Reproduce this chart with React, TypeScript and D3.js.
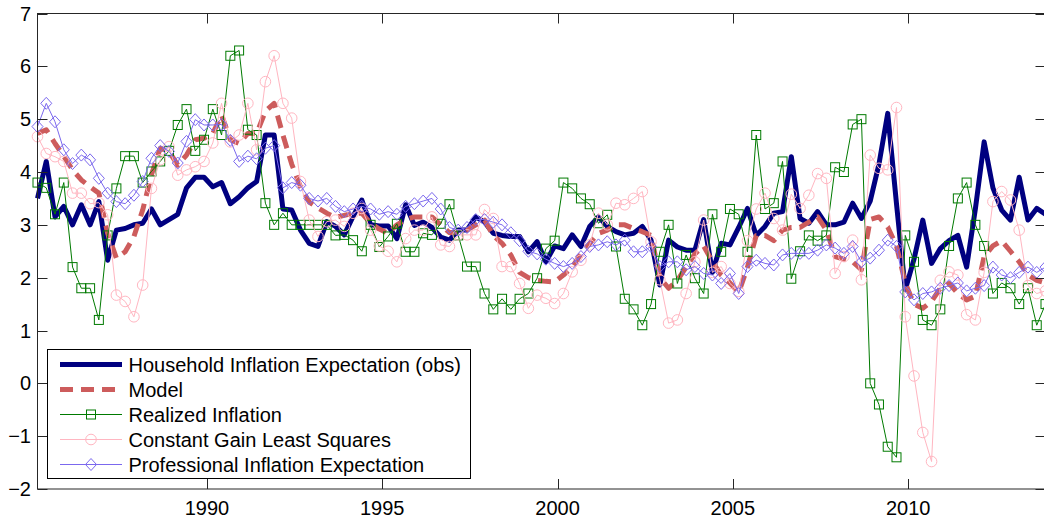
import { useEffect, useRef } from "react";
import * as d3 from "d3";

// quarterly observations 1985Q1 .. 2013Q4, plotted at mid-quarter month
const START_YEAR = 1985;
const N_QUARTERS = 116;

const household = [
  3.5, 4.2, 3.15, 3.35, 3.0, 3.38, 3.0, 3.44, 2.33, 2.9, 2.93, 3.0, 3.03, 3.3, 3.0, 3.1, 3.2, 3.7, 3.9, 3.9,
  3.72, 3.8, 3.4, 3.53, 3.7, 3.82, 4.7, 4.7, 3.3, 3.28, 2.9, 2.65, 2.59, 3.06, 2.97, 2.81, 3.16, 3.47, 3.0, 2.98,
  2.98, 2.74, 3.38, 2.99, 3.05, 2.95, 2.77, 2.71, 2.9, 2.9, 3.15, 3.05, 2.84, 2.8, 2.78, 2.78, 2.49, 2.68, 2.3, 2.6,
  2.55, 2.81, 2.59, 2.97, 3.15, 2.97, 2.87, 2.81, 2.84, 2.97, 2.71, 1.86, 2.71, 2.58, 2.52, 2.52, 3.1, 2.1, 2.65, 2.62,
  2.95, 3.31, 2.8, 2.97, 3.22, 3.25, 4.29, 3.12, 3.03, 3.25, 3.0, 3.0, 3.05, 3.41, 3.12, 3.45, 4.15, 5.11, 3.4, 1.77,
  2.35, 3.09, 2.27, 2.55, 2.7, 2.8, 2.2, 3.3, 4.57, 3.7, 3.28, 3.09, 3.9, 3.09, 3.31, 3.2,
];

const model = [
  4.73, 4.8, 4.54, 4.3, 4.04, 3.85, 3.72, 3.6, 2.84, 2.37, 2.49, 2.78, 3.28, 3.95, 4.45, 4.39, 4.13, 4.32, 4.61, 4.64,
  4.73, 5.08, 4.61, 4.54, 4.73, 4.73, 5.15, 5.3, 4.7, 4.15, 3.72, 3.43, 3.32, 3.22, 3.14, 3.18, 3.22, 3.22, 3.03, 2.92,
  2.84, 3.0, 3.1, 3.15, 3.15, 3.15, 3.0, 2.85, 2.87, 2.9, 3.0, 3.09, 2.8, 2.65, 2.43, 2.1, 2.0, 1.95, 1.93, 1.92,
  2.05, 2.2, 2.45, 2.65, 2.84, 2.9, 3.0, 3.0, 2.93, 2.87, 2.8, 2.0, 1.8, 1.95, 2.2, 2.45, 2.6, 2.3, 2.05, 1.9,
  1.72, 2.2, 2.8, 2.8, 2.7, 2.9, 2.95, 2.95, 3.05, 3.15, 2.9, 2.4, 2.35, 2.3, 2.15, 3.1, 3.15, 2.96, 2.6, 1.9,
  1.5, 1.42, 1.55, 1.8, 1.89, 1.7, 1.58, 1.65, 2.4, 2.6, 2.7, 2.5, 2.3, 2.05, 1.95, 1.9,
];

const realized = [
  3.8, 3.7, 3.2, 3.8, 2.2, 1.8, 1.8, 1.2, 2.8, 3.69, 4.3, 4.3, 3.8, 4.01, 4.2, 4.4, 4.89, 5.19, 4.4, 4.61,
  5.19, 4.7, 6.2, 6.3, 4.8, 4.7, 3.41, 3.0, 3.22, 3.0, 3.0, 3.0, 3.0, 3.0, 2.8, 2.81, 2.71, 2.5, 3.0, 2.58,
  2.78, 3.02, 2.49, 2.49, 2.84, 2.81, 3.02, 3.39, 2.8, 2.21, 2.21, 1.7, 1.4, 1.6, 1.4, 1.6, 1.7, 1.99, 2.55, 2.7,
  3.8, 3.69, 3.5, 3.39, 3.03, 3.19, 2.59, 1.6, 1.4, 1.1, 1.5, 2.49, 3.0, 1.89, 2.43, 1.99, 1.7, 3.2, 2.49, 3.3,
  3.2, 2.49, 4.7, 3.3, 3.41, 4.2, 1.98, 2.5, 2.8, 2.7, 2.8, 4.09, 4.0, 4.9, 5.0, 0.0, -0.4, -1.2, -1.4, 2.8,
  2.3, 1.2, 1.1, 1.4, 2.6, 3.5, 3.8, 3.0, 2.6, 1.7, 1.9, 1.8, 1.5, 1.8, 1.1, 1.5,
];

const cgls = [
  4.67, 4.35, 4.29, 4.2, 3.6, 3.6, 3.4, 3.42, 3.19, 1.67, 1.55, 1.26, 1.86, 3.69, 4.23, 4.48, 3.94, 4.04, 4.1, 4.2,
  4.55, 5.3, 4.57, 4.7, 5.3, 4.42, 5.71, 6.2, 5.3, 5.02, 3.82, 3.09, 2.78, 3.06, 3.09, 2.97, 3.22, 3.31, 2.9, 2.6,
  2.5, 2.3, 2.74, 2.9, 2.9, 3.15, 2.62, 2.59, 2.81, 2.81, 2.81, 3.29, 3.12, 2.21, 2.21, 1.89, 1.42, 1.67, 1.61, 1.51,
  1.7, 2.11, 2.33, 2.62, 3.22, 3.0, 3.41, 3.38, 3.5, 3.63, 2.68, 1.96, 1.14, 1.2, 1.7, 2.3, 3.09, 2.1, 2.21, 1.89,
  1.74, 2.7, 3.3, 3.6, 3.12, 2.9, 3.58, 3.31, 3.56, 3.97, 3.88, 2.08, 2.4, 2.71, 1.96, 4.32, 4.07, 4.04, 5.22, 1.26,
  0.14, -0.93, -1.48, 1.95, 2.11, 2.05, 1.3, 1.2, 2.1, 3.44, 3.63, 3.47, 2.9, 1.85, 1.7, 1.75,
];

const professional = [
  4.86, 5.3, 4.95, 4.42, 4.16, 4.32, 4.23, 3.88, 3.6, 3.44, 3.4, 3.56, 3.82, 4.26, 4.5, 4.39, 4.17, 4.58, 4.99, 4.89,
  4.89, 4.9, 4.6, 4.2, 4.3, 4.25, 4.45, 4.5, 3.7, 3.8, 3.75, 3.5, 3.45, 3.5, 3.35, 3.25, 3.3, 3.35, 3.3, 3.2,
  3.25, 3.2, 3.35, 3.4, 3.45, 3.5, 3.3, 2.95, 2.9, 2.95, 3.1, 3.1, 3.05, 3.0, 2.85, 2.7, 2.5, 2.45, 2.35, 2.27,
  2.21, 2.27, 2.4, 2.59, 2.62, 2.68, 2.62, 2.71, 2.49, 2.49, 2.59, 2.21, 2.3, 2.3, 2.15, 2.21, 2.08, 2.05, 1.89, 2.08,
  1.7, 2.21, 2.33, 2.27, 2.24, 2.43, 2.46, 2.46, 2.46, 2.52, 2.62, 2.56, 2.46, 2.59, 2.3, 2.37, 2.52, 2.71, 2.59, 1.73,
  1.58, 1.7, 1.73, 1.8, 1.85, 1.9, 1.75, 1.8, 1.85, 2.2, 2.05, 2.0, 2.1, 2.2, 2.1, 2.2,
];

const xTicks = [1990, 1995, 2000, 2005, 2010];
const yTicks = [-2, -1, 0, 1, 2, 3, 4, 5, 6, 7];

const legendLabels = [
  "Household Inflation Expectation (obs)",
  "Model",
  "Realized Inflation",
  "Constant Gain Least Squares",
  "Professional Inflation Expectation",
];

const W = 1044;
const H = 521;
const PLOT = { left: 37.5, right: 1045.5, top: 13.5, bottom: 489 };
const FONT = "'Liberation Sans', Arial, Helvetica, sans-serif";

type Marker = "none" | "square" | "circle" | "diamond";
interface SeriesStyle {
  color: string;
  width: number;
  dash?: string;
  marker: Marker;
}

const STYLES: SeriesStyle[] = [
  { color: "#000080", width: 5, marker: "none" },
  { color: "#cd5c5c", width: 5, dash: "13,8", marker: "none" },
  { color: "#007a00", width: 1, marker: "square" },
  { color: "#ffb6c1", width: 1, marker: "circle" },
  { color: "#7b68ee", width: 1, marker: "diamond" },
];

function drawMarker(
  g: d3.Selection<SVGGElement, unknown, null, undefined>,
  kind: Marker,
  x: number,
  y: number,
  color: string
) {
  if (kind === "square") {
    g.append("rect")
      .attr("x", x - 4.5)
      .attr("y", y - 4.5)
      .attr("width", 9)
      .attr("height", 9)
      .attr("fill", "none")
      .attr("stroke", color)
      .attr("stroke-width", 1);
  } else if (kind === "circle") {
    g.append("circle")
      .attr("cx", x)
      .attr("cy", y)
      .attr("r", 5.3)
      .attr("fill", "none")
      .attr("stroke", color)
      .attr("stroke-width", 1);
  } else if (kind === "diamond") {
    g.append("path")
      .attr("d", `M${x},${y - 6}L${x + 5.5},${y}L${x},${y + 6}L${x - 5.5},${y}Z`)
      .attr("fill", "none")
      .attr("stroke", color)
      .attr("stroke-width", 1);
  }
}

export default function App() {
  const svgRef = useRef<SVGSVGElement>(null);

  useEffect(() => {
    const svg = d3.select(svgRef.current);
    svg.selectAll("*").remove();

    svg.append("rect").attr("width", W).attr("height", H).attr("fill", "#ffffff");

    const dates = d3.range(N_QUARTERS).map((i) => START_YEAR + Math.floor(i / 4) + ((i % 4) * 3 + 2) / 12);

    const xScale = d3
      .scaleLinear()
      .domain([dates[0], dates[dates.length - 1]])
      .range([PLOT.left, PLOT.right]);
    const yScale = d3.scaleLinear().domain([-2, 7]).range([PLOT.bottom, PLOT.top]);

    const series = [household, model, realized, cgls, professional];

    const lineGen = d3
      .line<number>()
      .x((_, i) => xScale(dates[i]))
      .y((d) => yScale(d));

    series.forEach((values, si) => {
      const st = STYLES[si];
      const g = svg.append("g");
      g.append("path")
        .datum(values)
        .attr("d", lineGen)
        .attr("fill", "none")
        .attr("stroke", st.color)
        .attr("stroke-width", st.width)
        .attr("stroke-linejoin", "round")
        .attr("stroke-dasharray", st.dash ?? null);
      if (st.marker !== "none") {
        values.forEach((v, i) => drawMarker(g, st.marker, xScale(dates[i]), yScale(v), st.color));
      }
    });

    // Axes box with inward ticks
    const axis = svg.append("g").attr("stroke", "#262626").attr("stroke-width", 1).attr("fill", "none");
    axis.append("rect")
      .attr("x", PLOT.left)
      .attr("y", PLOT.top)
      .attr("width", PLOT.right - PLOT.left)
      .attr("height", PLOT.bottom - PLOT.top);

    xTicks.forEach((t) => {
      const x = Math.round(xScale(t)) + 0.5;
      axis.append("line").attr("x1", x).attr("x2", x).attr("y1", PLOT.bottom).attr("y2", PLOT.bottom - 10);
      axis.append("line").attr("x1", x).attr("x2", x).attr("y1", PLOT.top).attr("y2", PLOT.top + 10);
      svg.append("text")
        .attr("x", xScale(t))
        .attr("y", 515)
        .attr("text-anchor", "middle")
        .attr("font-family", FONT)
        .attr("font-size", "20px")
        .attr("fill", "#000")
        .text(String(t));
    });

    yTicks.forEach((t) => {
      const y = Math.round(yScale(t)) + 0.5;
      axis.append("line").attr("x1", PLOT.left).attr("x2", PLOT.left + 10).attr("y1", y).attr("y2", y);
      axis.append("line").attr("x1", PLOT.right).attr("x2", PLOT.right - 10).attr("y1", y).attr("y2", y);
      svg.append("text")
        .attr("x", 31)
        .attr("y", yScale(t) + 7)
        .attr("text-anchor", "end")
        .attr("font-family", FONT)
        .attr("font-size", "20px")
        .attr("fill", "#000")
        .text(t < 0 ? `\u2212${Math.abs(t)}` : String(t));
    });

    // Legend
    const lg = svg.append("g");
    lg.append("rect")
      .attr("x", 47.5)
      .attr("y", 349.5)
      .attr("width", 423)
      .attr("height", 129)
      .attr("fill", "#ffffff")
      .attr("stroke", "#000")
      .attr("stroke-width", 1);

    legendLabels.forEach((label, i) => {
      const st = STYLES[i];
      const cy = 364.5 + i * 25;
      const row = lg.append("g");
      row.append("line")
        .attr("x1", 60)
        .attr("x2", 122)
        .attr("y1", cy)
        .attr("y2", cy)
        .attr("stroke", st.color)
        .attr("stroke-width", st.width)
        .attr("stroke-dasharray", st.dash ?? null);
      if (st.marker !== "none") drawMarker(row, st.marker, 91, cy, st.color);
      row.append("text")
        .attr("x", 128.5)
        .attr("y", cy + 7)
        .attr("font-family", FONT)
        .attr("font-size", "20px")
        .attr("fill", "#000")
        .text(label);
    });
  }, []);

  return (
    <svg
      ref={svgRef}
      width={W}
      height={H}
      style={{ position: "absolute", left: 0, top: 0, display: "block" }}
    />
  );
}
